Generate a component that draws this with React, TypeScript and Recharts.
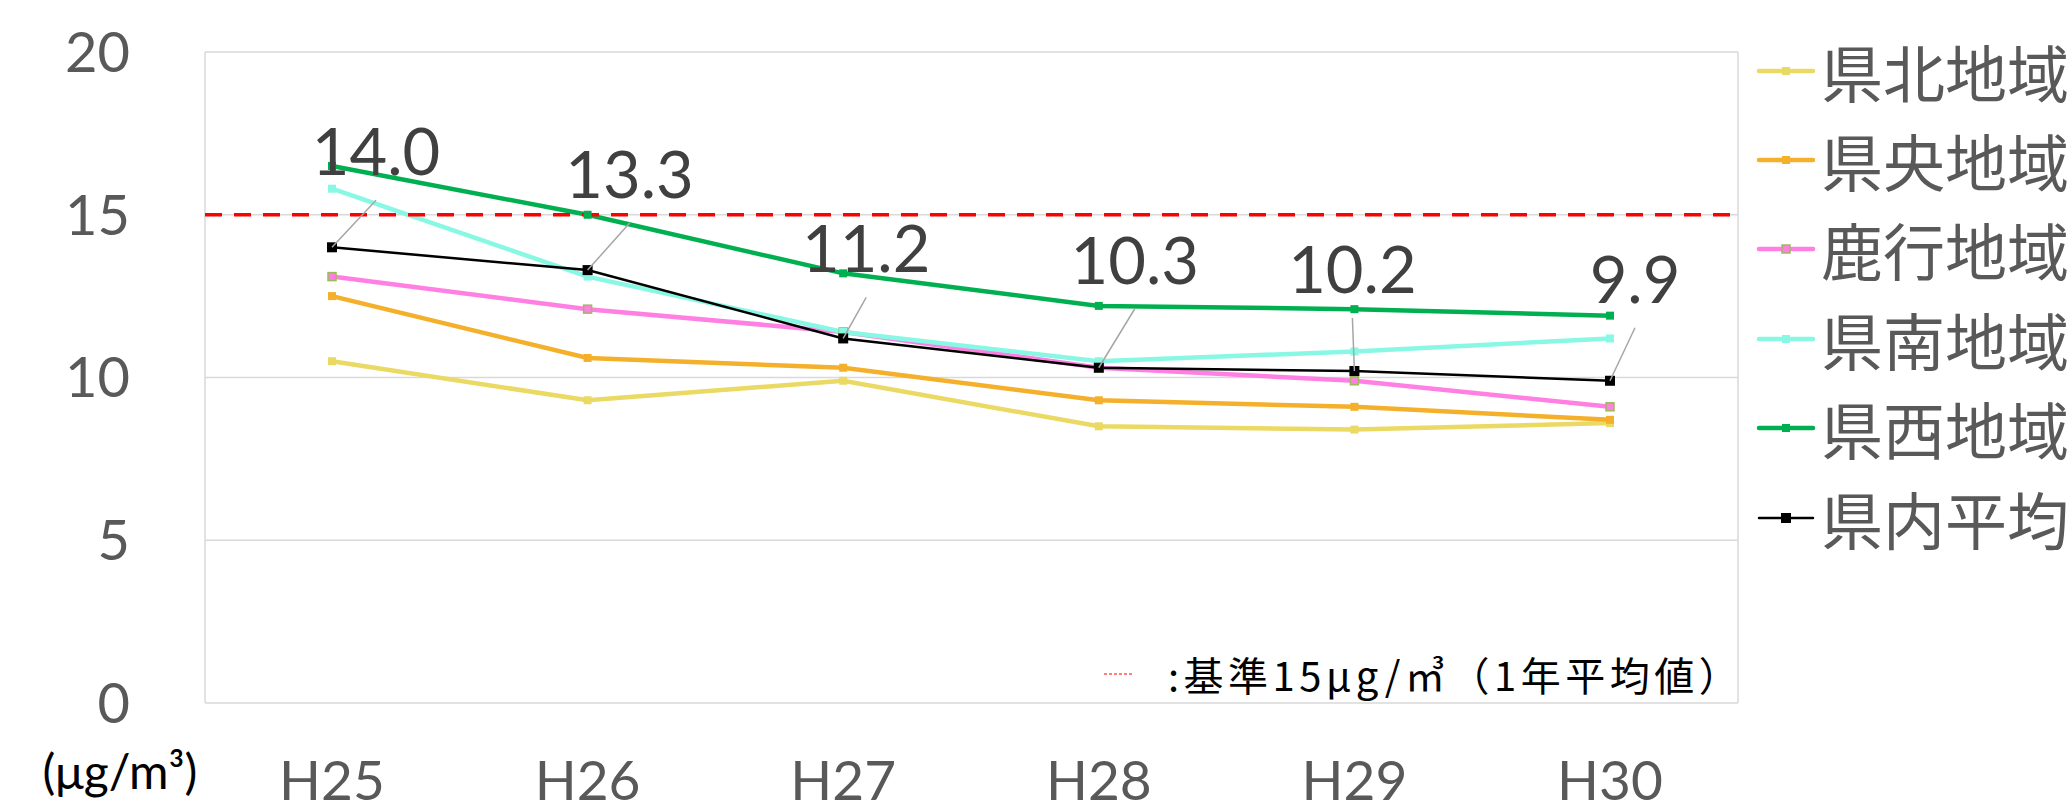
import { LineChart, Line, XAxis, YAxis, CartesianGrid, ReferenceLine, LabelList, Legend, Label } from 'recharts';

const years = ['H25', 'H26', 'H27', 'H28', 'H29', 'H30'];
const kenhoku = [10.5, 9.3, 9.9, 8.5, 8.4, 8.6];
const kenou = [12.5, 10.6, 10.3, 9.3, 9.1, 8.7];
const rokko = [13.1, 12.1, 11.4, 10.3, 9.9, 9.1];
const kennan = [15.8, 13.1, 11.4, 10.5, 10.8, 11.2];
const kensei = [16.5, 15.0, 13.2, 12.2, 12.1, 11.9];
const average = [14.0, 13.3, 11.2, 10.3, 10.2, 9.9];
const yTicks = [0, 5, 10, 15, 20];
const standard = 15;

// where each average label sits relative to its point (dx, dy)
const labelOffsets = [
  [44, -95],
  [42, -95],
  [23, -89],
  [36, -107],
  [-2, -101],
  [25, -101],
];

const LATIN = 'Lato, "Noto Sans", sans-serif';
const CJK = '"Noto Sans CJK JP", "Noto Sans", sans-serif';

const series = [
  { key: 'kenhoku', name: '県北地域', color: '#EAD962', width: 4.5, size: 8, border: '' },
  { key: 'kenou', name: '県央地域', color: '#F4B02A', width: 4.5, size: 8, border: '' },
  { key: 'rokko', name: '鹿行地域', color: '#FF80E2', width: 4.5, size: 8, border: '#9BBB59' },
  { key: 'kennan', name: '県南地域', color: '#88F8E4', width: 4.5, size: 8, border: '' },
  { key: 'kensei', name: '県西地域', color: '#00B050', width: 4.5, size: 8, border: '' },
  { key: 'average', name: '県内平均', color: '#000000', width: 2.5, size: 10, border: '' },
];

const data = years.map((year, i) => ({
  year,
  kenhoku: kenhoku[i],
  kenou: kenou[i],
  rokko: rokko[i],
  kennan: kennan[i],
  kensei: kensei[i],
  average: average[i],
}));

function squareDot(size: number, fill: string, border: string) {
  return (p: any) => {
    if (p.cx == null || p.cy == null) return <g key={p.index} />;
    return (
      <rect
        key={p.index}
        x={p.cx - size / 2}
        y={p.cy - size / 2}
        width={size}
        height={size}
        fill={fill}
        stroke={border || 'none'}
        strokeWidth={border ? 1.5 : 0}
      />
    );
  };
}

function leaderLabel(props: any) {
  const { x, y, value, index } = props;
  const [dx, dy] = labelOffsets[index] || [0, -90];
  const lx = x + dx;
  const ly = y + dy;
  return (
    <g key={index}>
      <line x1={lx} y1={ly + 48} x2={x} y2={y} stroke="#A6A6A6" strokeWidth={1.5} />
      <text x={lx} y={ly + 23} textAnchor="middle" fill="#404040" fontSize={65} fontFamily={LATIN}>
        {Number(value).toFixed(1)}
      </text>
    </g>
  );
}

function renderLegend() {
  return (
    <div style={{ fontFamily: CJK, fontSize: 62, color: '#595959' }}>
      {series.map((s) => (
        <div key={s.key} style={{ height: 89.4, display: 'flex', alignItems: 'center', whiteSpace: 'nowrap' }}>
          <svg width={66} height={20} style={{ flex: 'none' }}>
            <line x1={4} x2={58} y1={10} y2={10} stroke={s.color} strokeWidth={s.width} strokeLinecap="round" />
            <rect
              x={31 - s.size / 2}
              y={10 - s.size / 2}
              width={s.size}
              height={s.size}
              fill={s.color}
              stroke={s.border || 'none'}
              strokeWidth={s.border ? 1.5 : 0}
            />
          </svg>
          <span style={{ lineHeight: 1 }}>{s.name}</span>
        </div>
      ))}
    </div>
  );
}

export default function App() {
  return (
    <div style={{ position: 'relative', width: 2068, height: 808, overflow: 'hidden', background: '#fff' }}>
      <style>{'body{margin:0}'}</style>
      <LineChart width={2068} height={808} data={data} margin={{ top: 52, right: 330, bottom: 0, left: 0 }}>
        <CartesianGrid
          stroke="#D9D9D9"
          strokeWidth={1.5}
          verticalCoordinatesGenerator={({ offset }: any) => [offset.left, offset.left + offset.width]}
        />
        <XAxis
          dataKey="year"
          axisLine={false}
          tickLine={false}
          interval={0}
          height={105}
          tickMargin={52}
          padding={{ left: 127, right: 128 }}
          tick={{ fill: '#595959', fontSize: 55, fontFamily: LATIN }}
        />
        <YAxis
          domain={[0, 20]}
          ticks={yTicks}
          axisLine={false}
          tickLine={false}
          width={205}
          tickMargin={69}
          tick={{ fill: '#595959', fontSize: 56, fontFamily: LATIN }}
        >
          <Label
            content={({ viewBox }: any) => (
              <text
                x={viewBox.x + 120}
                y={viewBox.y + viewBox.height + 86}
                textAnchor="middle"
                fill="#000"
                fontSize={48}
                fontFamily={LATIN}
              >
                (μg/m³)
              </text>
            )}
          />
        </YAxis>
        <Legend
          layout="vertical"
          align="center"
          verticalAlign="middle"
          content={renderLegend}
          wrapperStyle={{ left: 1755, top: 26, width: 313, overflow: 'hidden' }}
        />
        {series.map((s) => (
          <Line
            key={s.key}
            dataKey={s.key}
            name={s.name}
            stroke={s.color}
            strokeWidth={s.width}
            dot={squareDot(s.size, s.color, s.border)}
            activeDot={false}
            isAnimationActive={false}
          >
            {s.key === 'average' && <LabelList dataKey="average" content={leaderLabel} />}
          </Line>
        ))}
        <ReferenceLine y={standard} stroke="#FF0000" strokeWidth={3.5} strokeDasharray="17 12" />
      </LineChart>
      <div
        style={{
          position: 'absolute',
          left: 1100,
          top: 652,
          height: 44,
          display: 'flex',
          alignItems: 'center',
          fontFamily: CJK,
          fontSize: 40,
          color: '#000',
          whiteSpace: 'nowrap',
        }}
      >
        <svg width={36} height={6} style={{ flex: 'none' }}>
          <line x1={4} x2={34} y1={3} y2={3} stroke="#FF0000" strokeWidth={1.2} strokeDasharray="3 2" />
        </svg>
        <span style={{ marginLeft: 32, lineHeight: 1, letterSpacing: 4.5 }}>:基準15μg/㎥（1年平均値）</span>
      </div>
    </div>
  );
}
